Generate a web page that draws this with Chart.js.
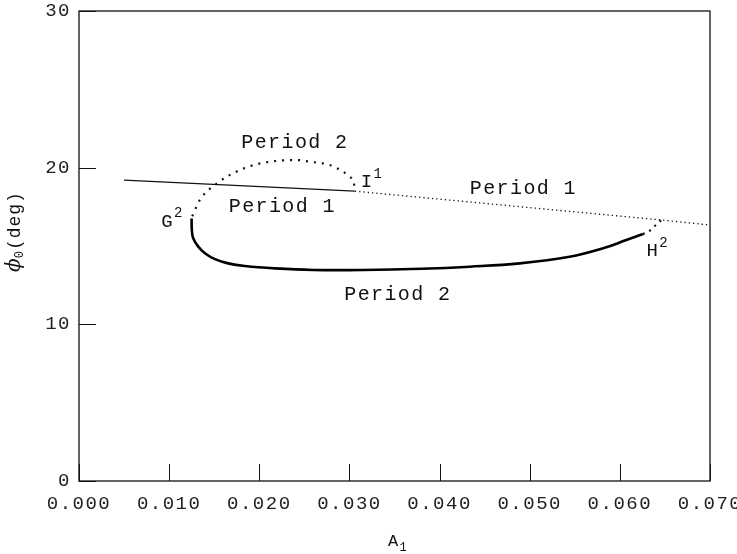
<!DOCTYPE html>
<html>
<head>
<meta charset="utf-8">
<script src="https://cdn.jsdelivr.net/npm/chart.js@4.4.1/dist/chart.umd.min.js"></script>
<style>
  html, body { margin: 0; padding: 0; background: #fff; }
  #wrap { width: 737px; height: 554px; }
</style>
</head>
<body>
<div id="wrap"><canvas id="chart" width="737" height="554"></canvas></div>
<script>
// axis ticks
const xTicks = [0, 0.01, 0.02, 0.03, 0.04, 0.05, 0.06, 0.07];
const yTicks = [0, 10, 20, 30];

// Period 1 branch, stable (solid)
const p1StableA = [0.0050, 0.0306];
const p1StablePhi = [19.2, 18.5];

// Period 1 branch, unstable (dotted)
const p1UnstableA = [0.0306, 0.0646, 0.0700];
const p1UnstablePhi = [18.5, 16.66, 16.34];

// Period 2 upper arc G -> I (dotted)
const p2UpperA = [0.01256, 0.0134, 0.01545, 0.01785, 0.0201, 0.0241, 0.0256, 0.0278, 0.0293, 0.0300, 0.0305, 0.0306];
const p2UpperPhi = [16.9, 17.93, 19.06, 19.85, 20.27, 20.49, 20.38, 20.17, 19.74, 19.42, 19.0, 18.5];

// Period 2 lower branch G -> H (solid, thick)
const p2LowerA = [0.01249, 0.01252, 0.01267, 0.01323, 0.01397, 0.01508, 0.01655, 0.0184, 0.02173, 0.02598, 0.03152, 0.0380, 0.04335, 0.04889, 0.05443, 0.05813, 0.06072, 0.06256];
const p2LowerPhi = [16.76, 16.02, 15.49, 14.96, 14.54, 14.16, 13.89, 13.72, 13.57, 13.47, 13.47, 13.55, 13.68, 13.89, 14.31, 14.85, 15.38, 15.76];

// short dotted piece up to H
const p2EndA = [0.06256, 0.0633, 0.0640, 0.0646];
const p2EndPhi = [15.76, 15.97, 16.34, 16.66];

// text labels: [text, A, phi]
const notes = [
  ["Period 2", 0.02395, 21.57],
  ["Period 1", 0.0493, 18.63],
  ["Period 1", 0.02256, 17.49],
  ["Period 2", 0.03537, 11.87]
];
// point labels with superscript: [letter, sup, A, phi]
const points = [
  ["I", "1", 0.0319, 19.08],
  ["G", "2", 0.00976, 16.55],
  ["H", "2", 0.0636, 14.68]
];

function toXY(xs, ys) {
  return xs.map((x, i) => ({ x: x, y: ys[i] }));
}

const MONO = '"Liberation Mono", "DejaVu Sans Mono", monospace';

// ticks pointing inwards, frame, labels, axis titles
const decor = {
  id: "decor",
  beforeDraw(chart) {
    chart.ctx.letterSpacing = "1.5px";
  },
  afterDraw(chart) {
    const ctx = chart.ctx;
    const a = chart.chartArea;
    const xs = chart.scales.x;
    const ys = chart.scales.y;
    ctx.save();
    ctx.letterSpacing = "0px";
    ctx.strokeStyle = "#111";
    ctx.lineWidth = 1.3;
    ctx.strokeRect(a.left, a.top, a.right - a.left, a.bottom - a.top);
    ctx.lineWidth = 1;
    ctx.beginPath();
    xTicks.forEach(v => {
      const px = Math.round(xs.getPixelForValue(v)) + 0.5;
      ctx.moveTo(px, a.bottom);
      ctx.lineTo(px, a.bottom - 17);
    });
    yTicks.forEach(v => {
      const py = Math.round(ys.getPixelForValue(v)) + 0.5;
      ctx.moveTo(a.left, py);
      ctx.lineTo(a.left + 17, py);
    });
    ctx.stroke();

    // curve labels
    ctx.fillStyle = "#111";
    ctx.textBaseline = "middle";
    ctx.textAlign = "center";
    ctx.letterSpacing = "1.4px";
    ctx.font = "20px " + MONO;
    notes.forEach(n => {
      ctx.fillText(n[0], xs.getPixelForValue(n[1]), ys.getPixelForValue(n[2]));
    });
    ctx.letterSpacing = "0px";
    points.forEach(p => {
      const px = xs.getPixelForValue(p[2]);
      const py = ys.getPixelForValue(p[3]);
      ctx.font = "19px " + MONO;
      ctx.textAlign = "center";
      ctx.fillText(p[0], px, py);
      ctx.font = "14px " + MONO;
      ctx.textAlign = "left";
      ctx.fillText(p[1], px + 7, py - 8);
    });

    // x title
    ctx.textAlign = "center";
    ctx.font = "17px " + MONO;
    ctx.fillText("A", 393, 541);
    ctx.font = "12px " + MONO;
    ctx.fillText("1", 403, 548);

    // y title
    ctx.translate(15, 232);
    ctx.rotate(-Math.PI / 2);
    ctx.textAlign = "left";
    const phiFont = 'italic 20px "DejaVu Serif", serif';
    const subFont = "12px " + MONO;
    const degFont = "18px " + MONO;
    ctx.font = phiFont;
    const w1 = ctx.measureText("\u03d5").width;
    ctx.font = subFont;
    const w2 = ctx.measureText("0").width;
    ctx.font = degFont;
    ctx.letterSpacing = "1px";
    const w3 = ctx.measureText("(deg)").width;
    let x0 = -(w1 + w2 + w3) / 2;
    ctx.letterSpacing = "0px";
    ctx.font = phiFont;
    ctx.fillText("\u03d5", x0, 0);
    x0 += w1;
    ctx.font = subFont;
    ctx.fillText("0", x0, 5);
    x0 += w2 + 1;
    ctx.font = degFont;
    ctx.letterSpacing = "1px";
    ctx.fillText("(deg)", x0, 0);
    ctx.restore();
  }
};

const ctx = document.getElementById("chart").getContext("2d");
new Chart(ctx, {
  type: "scatter",
  data: {
    datasets: [
      {
        data: toXY(p1StableA, p1StablePhi),
        showLine: true, borderColor: "#111", borderWidth: 1.2, pointRadius: 0, tension: 0
      },
      {
        data: toXY(p1UnstableA, p1UnstablePhi),
        showLine: true, borderColor: "#111", borderWidth: 1.3, borderDash: [1.3, 3], pointRadius: 0, tension: 0
      },
      {
        data: toXY(p2UpperA, p2UpperPhi),
        showLine: true, borderColor: "#111", borderWidth: 2.2, borderDash: [2, 6], pointRadius: 0,
        cubicInterpolationMode: "monotone"
      },
      {
        data: toXY(p2LowerA, p2LowerPhi),
        showLine: true, borderColor: "#000", borderWidth: 2.6, pointRadius: 0, tension: 0.4
      },
      {
        data: toXY(p2EndA, p2EndPhi),
        showLine: true, borderColor: "#111", borderWidth: 2.2, borderDash: [2, 5], pointRadius: 0,
        cubicInterpolationMode: "monotone"
      }
    ]
  },
  options: {
    responsive: false,
    animation: false,
    events: [],
    layout: { padding: { left: 0, top: 11, right: 27, bottom: 0 } },
    plugins: { legend: { display: false }, tooltip: { enabled: false } },
    scales: {
      x: {
        type: "linear",
        min: xTicks[0],
        max: xTicks[xTicks.length - 1],
        grid: { display: false, drawTicks: false },
        border: { display: false },
        afterBuildTicks: s => { s.ticks = xTicks.map(v => ({ value: v })); },
        afterFit: s => { s.height = 73; s.paddingLeft = 0; s.paddingRight = 0; },
        ticks: {
          maxRotation: 0,
          autoSkip: false,
          padding: 12,
          color: "#222",
          font: { family: MONO, size: 19 },
          callback: v => v.toFixed(3)
        }
      },
      y: {
        type: "linear",
        min: yTicks[0],
        max: yTicks[yTicks.length - 1],
        grid: { display: false, drawTicks: false },
        border: { display: false },
        afterBuildTicks: s => { s.ticks = yTicks.map(v => ({ value: v })); },
        afterFit: s => { s.width = 79; s.paddingTop = 0; s.paddingBottom = 0; },
        ticks: {
          autoSkip: false,
          padding: 8,
          color: "#222",
          font: { family: MONO, size: 19 },
          callback: v => String(v)
        }
      }
    }
  },
  plugins: [decor]
});
</script>
</body>
</html>
